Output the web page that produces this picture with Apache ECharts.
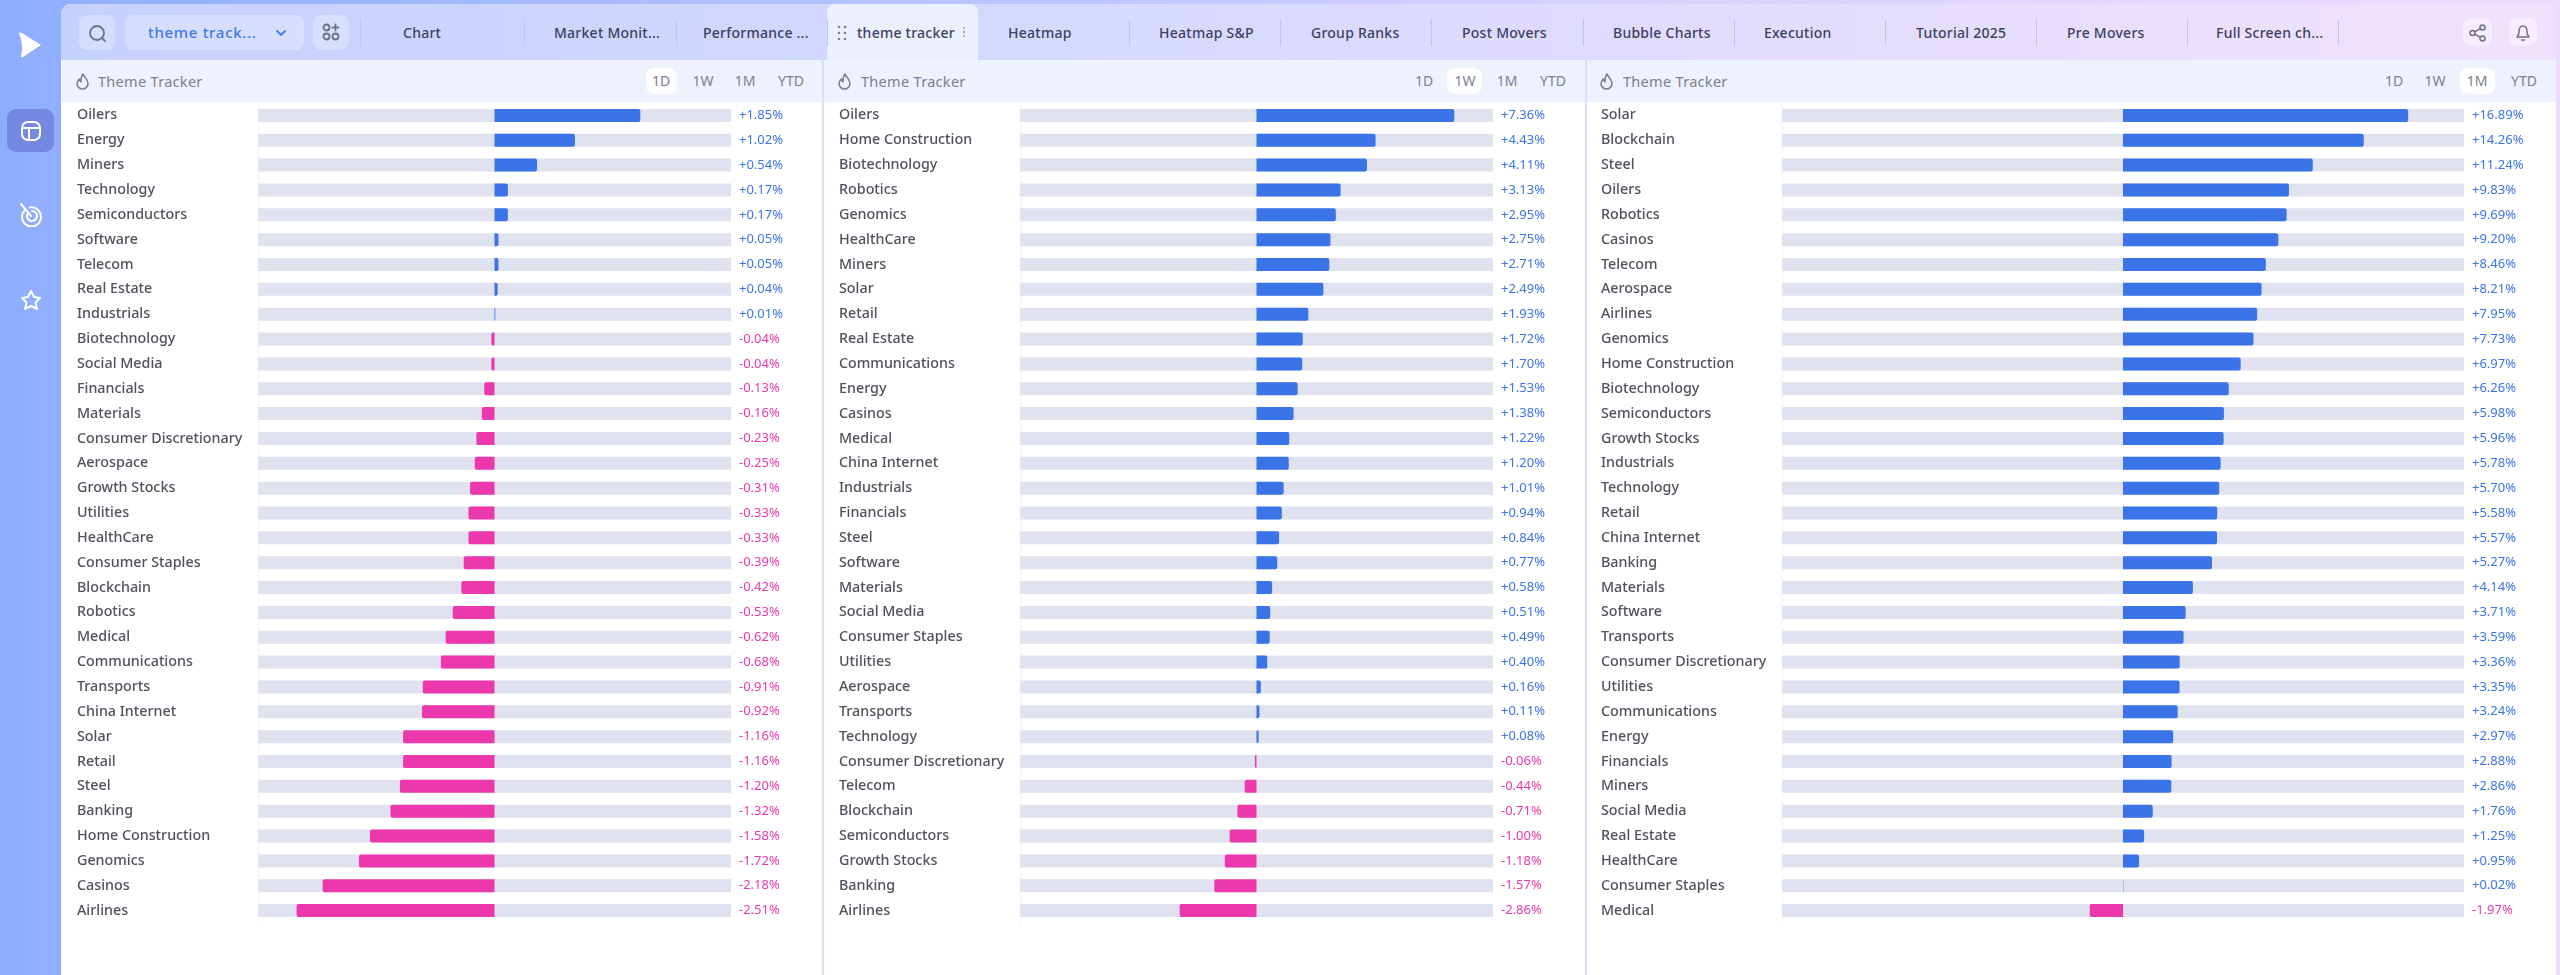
<!DOCTYPE html>
<html>
<head>
<meta charset="utf-8">
<title>Theme Tracker</title>
<script src="https://cdn.jsdelivr.net/npm/echarts@6/dist/echarts.min.js"></script>
<style>
html,body{margin:0;padding:0;width:2560px;height:975px;overflow:hidden;font-family:"Noto Sans",sans-serif}
body{position:relative;background:linear-gradient(90deg,#8fadff 0%,#b6c2ff 35%,#d9d3ff 65%,#ecdcfd 100%)}
.abs{position:absolute}
#shell{left:61px;top:4px;width:2495px;height:971px;border-radius:10px 10px 0 0;overflow:hidden;background:#fff}
#topbar{left:61px;top:4px;width:2495px;height:56px;border-radius:10px 10px 0 0;background:linear-gradient(90deg,#c5d1fd 0%,#d6d9fe 40%,#e3dcfe 70%,#f0e2fd 100%)}
.head{top:60px;height:42px;background:#eef1fe}
.sep{top:60px;width:2px;height:915px;background:#d8dff9}
.btn{top:15px;height:35px;border-radius:8px;background:rgba(255,255,255,.28)}
.tab{top:0;line-height:65px;height:65px;font-size:14px;font-weight:500;color:#3c4160;white-space:nowrap;letter-spacing:.25px}
.div{top:19px;width:1px;height:27px;background:#bfc6ee}
.ttl{top:70px;line-height:22px;font-size:14.5px;color:#7d808f;letter-spacing:.3px;white-space:nowrap}
.rng{top:70px;line-height:22px;font-size:14px;color:#7d808f;width:40px;margin-left:-20px;text-align:center}
.pill{top:68px;height:26px;background:#fff;border-radius:8px}
svg{position:absolute;fill:none}
#main{position:absolute;left:0;top:0;width:2560px;height:975px}
</style>
</head>
<body>
<div class="abs" id="shell"></div>
<div class="abs" id="topbar"></div>

<!-- 左侧栏图标 -->
<svg style="left:19px;top:32px" width="24" height="26" viewBox="0 0 24 26"><path d="M0 1 Q1 0 3 1 L22 13 L4 25 Q2 26 2 24 Q5 14 0 1Z" fill="#fff"/></svg>
<div class="abs" style="left:7px;top:109px;width:47px;height:43px;border-radius:9px;background:#7488e0"></div>
<svg style="left:20px;top:120px" width="22" height="22" viewBox="0 0 22 22" stroke="#fff" stroke-width="2"><rect x="2" y="2" width="18" height="18" rx="6"/><path d="M2 8H20M9 8V20"/></svg>
<svg style="left:19px;top:203px" width="24" height="24" viewBox="0 0 24 24" stroke="#fff" stroke-width="2" stroke-linecap="round"><path d="M6 7A9.5 9.5 0 1 0 11 4.5"/><path d="M9 10A5 5 0 1 0 13 8"/><path d="M2 1L12 13"/></svg>
<svg style="left:20px;top:289px" width="22" height="22" viewBox="0 0 22 22" stroke="#fff" stroke-width="2" stroke-linejoin="round"><path d="M11 2L14 8L20 9L15.5 13.5L17 20L11 17L5 20L6.5 13.5L2 9L8 8Z"/></svg>

<!-- 顶部按钮 -->
<div class="abs btn" style="left:79px;width:36px"></div>
<div class="abs btn" style="left:125px;width:179px"></div>
<div class="abs btn" style="left:313px;width:36px"></div>
<div class="abs" style="left:148px;top:0;line-height:65px;font-size:15px;font-weight:500;color:#3f78ee;letter-spacing:.7px">theme track...</div>
<svg style="left:88px;top:24px" width="19" height="19" viewBox="0 0 19 19" stroke="#6d7188" stroke-width="1.8" stroke-linecap="round"><circle cx="9" cy="9" r="7"/><path d="M14 14L17 17"/></svg>
<svg style="left:275px;top:29px" width="12" height="8" viewBox="0 0 12 8" stroke="#3f78ee" stroke-width="1.8" stroke-linecap="round"><path d="M2 2L6 6L10 2"/></svg>
<svg style="left:322px;top:23px" width="18" height="18" viewBox="0 0 18 18" stroke="#6d7188" stroke-width="1.8" stroke-linecap="round"><circle cx="4.5" cy="4.5" r="3"/><circle cx="4.5" cy="13.5" r="3"/><circle cx="13.5" cy="13.5" r="3"/><path d="M13.5 1.5V7.5M10.5 4.5H16.5"/></svg>
<div class="abs" style="left:827px;top:4px;width:151px;height:56px;border-radius:8px 8px 0 0;background:#eceffd"></div>
<svg style="left:837px;top:25px" width="10" height="16" viewBox="0 0 10 16"><circle cx="2" cy="2" r="1.3" fill="#7b7f95"/><circle cx="8" cy="2" r="1.3" fill="#7b7f95"/><circle cx="2" cy="8" r="1.3" fill="#7b7f95"/><circle cx="8" cy="8" r="1.3" fill="#7b7f95"/><circle cx="2" cy="14" r="1.3" fill="#7b7f95"/><circle cx="8" cy="14" r="1.3" fill="#7b7f95"/></svg>
<svg style="left:962px;top:26px" width="4" height="12" viewBox="0 0 4 12"><circle cx="2" cy="2" r="1" fill="#9a9eb2"/><circle cx="2" cy="6" r="1" fill="#9a9eb2"/><circle cx="2" cy="10" r="1" fill="#9a9eb2"/></svg>
<div class="abs" style="left:2463px;top:18px;width:29px;height:28px;border-radius:8px;background:rgba(255,255,255,.4)"></div>
<div class="abs" style="left:2509px;top:18px;width:28px;height:28px;border-radius:8px;background:rgba(255,255,255,.4)"></div>
<svg style="left:2469px;top:24px" width="18" height="18" viewBox="0 0 18 18" stroke="#6d7188" stroke-width="1.5"><circle cx="3.5" cy="9" r="2.5"/><circle cx="13.5" cy="3.5" r="2.5"/><circle cx="13.5" cy="14.5" r="2.5"/><path d="M5.7 7.8L11.3 4.7M5.7 10.2L11.3 13.3"/></svg>
<svg style="left:2515px;top:24px" width="16" height="18" viewBox="0 0 16 18" stroke="#6d7188" stroke-width="1.5" stroke-linejoin="round"><path d="M8 2C4.5 2 4 5 4 8C4 11 2 13 2 13H14C14 13 12 11 12 8C12 5 11.5 2 8 2Z"/><path d="M6 16H10"/></svg>

<div class="abs" id="chrome"></div>
<div id="main"></div>

<script>
// 顶部标签
var tabNames = ["Chart","Market Monit...","Performance ...","theme tracker","Heatmap","Heatmap S&P","Group Ranks","Post Movers","Bubble Charts","Execution","Tutorial 2025","Pre Movers","Full Screen ch..."];
var rangeNames = ["1D","1W","1M","YTD"];

// 左边 1D
var names1D = ["Oilers","Energy","Miners","Technology","Semiconductors","Software","Telecom","Real Estate","Industrials","Biotechnology","Social Media","Financials","Materials","Consumer Discretionary","Aerospace","Growth Stocks","Utilities","HealthCare","Consumer Staples","Blockchain","Robotics","Medical","Communications","Transports","China Internet","Solar","Retail","Steel","Banking","Home Construction","Genomics","Casinos","Airlines"];
var values1D = [1.85,1.02,0.54,0.17,0.17,0.05,0.05,0.04,0.01,-0.04,-0.04,-0.13,-0.16,-0.23,-0.25,-0.31,-0.33,-0.33,-0.39,-0.42,-0.53,-0.62,-0.68,-0.91,-0.92,-1.16,-1.16,-1.20,-1.32,-1.58,-1.72,-2.18,-2.51];

// 中间 1W
var names1W = ["Oilers","Home Construction","Biotechnology","Robotics","Genomics","HealthCare","Miners","Solar","Retail","Real Estate","Communications","Energy","Casinos","Medical","China Internet","Industrials","Financials","Steel","Software","Materials","Social Media","Consumer Staples","Utilities","Aerospace","Transports","Technology","Consumer Discretionary","Telecom","Blockchain","Semiconductors","Growth Stocks","Banking","Airlines"];
var values1W = [7.36,4.43,4.11,3.13,2.95,2.75,2.71,2.49,1.93,1.72,1.70,1.53,1.38,1.22,1.20,1.01,0.94,0.84,0.77,0.58,0.51,0.49,0.40,0.16,0.11,0.08,-0.06,-0.44,-0.71,-1.00,-1.18,-1.57,-2.86];

// 右边 1M
var names1M = ["Solar","Blockchain","Steel","Oilers","Robotics","Casinos","Telecom","Aerospace","Airlines","Genomics","Home Construction","Biotechnology","Semiconductors","Growth Stocks","Industrials","Technology","Retail","China Internet","Banking","Materials","Software","Transports","Consumer Discretionary","Utilities","Communications","Energy","Financials","Miners","Social Media","Real Estate","HealthCare","Consumer Staples","Medical"];
var values1M = [16.89,14.26,11.24,9.83,9.69,9.20,8.46,8.21,7.95,7.73,6.97,6.26,5.98,5.96,5.78,5.70,5.58,5.57,5.27,4.14,3.71,3.59,3.36,3.35,3.24,2.97,2.88,2.86,1.76,1.25,0.95,0.02,-1.97];

var BLUE = "#3b74e8", PINK = "#eb38ac", TRACK = "#e0e2f0";
var FONT = "Noto Sans";

// 页面框架：标签、分隔线、面板头
var tabX = [403,554,703,857,1008,1159,1311,1462,1613,1764,1916,2067,2216];
var divX = [360,524,676,827,1129,1280,1431,1583,1734,1885,2036,2187,2338];
var html = "";
tabNames.forEach(function (t, i) {
    html += '<div class="abs tab" style="left:' + tabX[i] + 'px">' + t.replace("&", "&amp;") + '</div>';
});
divX.forEach(function (x) {
    html += '<div class="abs div" style="left:' + x + 'px"></div>';
});

var panels = [
    {left: 62, width: 760, titleX: 98, flameX: 76, rangeX: [661,703,745,791], pill: [646,31]},
    {left: 824, width: 761, titleX: 861, flameX: 838, rangeX: [1424,1465,1507,1553], pill: [1447,35]},
    {left: 1587, width: 969, titleX: 1623, flameX: 1600, rangeX: [2394,2435,2477,2524], pill: [2460,35]}
];
panels.forEach(function (p) {
    html += '<div class="abs head" style="left:' + p.left + 'px;width:' + p.width + 'px"></div>';
    html += '<div class="abs pill" style="left:' + p.pill[0] + 'px;width:' + p.pill[1] + 'px"></div>';
    html += '<div class="abs ttl" style="left:' + p.titleX + 'px">Theme Tracker</div>';
    html += '<svg style="left:' + p.flameX + 'px;top:73px" width="13" height="17" viewBox="0 0 13 17" stroke="#7d808f" stroke-width="1.6" stroke-linejoin="round"><path d="M7 1C8 4 12 6 12 10.5A5.5 5.5 0 0 1 1 10.5C1 8.5 2 7 3.5 6C3.5 7.5 4 8.5 5 9C5 6 5.5 3 7 1Z"/></svg>';
    rangeNames.forEach(function (r, i) {
        html += '<div class="abs rng" style="left:' + p.rangeX[i] + 'px">' + r + '</div>';
    });
});
html += '<div class="abs sep" style="left:822px"></div><div class="abs sep" style="left:1585px"></div>';
document.getElementById("chrome").innerHTML = html;

// 柱状图：一个实例三个 grid
var myChart = echarts.init(document.getElementById("main"), null, {renderer: "canvas"});

var blocks = [
    {names: names1D, values: values1D, left: 258, right: 731, limit: 3},
    {names: names1W, values: values1W, left: 1020, right: 1493, limit: 8.8},
    {names: names1M, values: values1M, left: 1782, right: 2464, limit: 20.2}
];
var GRID_TOP = 103, GRID_BOTTOM = 923;

var grids = [], xAxes = [], yAxes = [], series = [];
blocks.forEach(function (b, i) {
    grids.push({left: b.left, width: b.right - b.left, top: GRID_TOP, height: GRID_BOTTOM - GRID_TOP, containLabel: false});
    xAxes.push({type: "value", gridIndex: i, min: -b.limit, max: b.limit, show: false});
    //左边的名称
    yAxes.push({
        type: "category", gridIndex: i, inverse: true, position: "left", data: b.names,
        axisTick: {show: false},
        axisLine: {show: true, onZero: false, lineStyle: {color: "#f2f3f9"}},
        axisLabel: {align: "left", margin: 181, interval: 0, fontFamily: FONT, fontSize: 14.3, fontWeight: 500, color: "#4f515c"}
    });
    //右边的百分比
    yAxes.push({
        type: "category", gridIndex: i, inverse: true, position: "right",
        data: b.values.map(function (v) {
            return {
                value: (v > 0 ? "+" : "") + v.toFixed(2) + "%",
                textStyle: {color: v >= 0 ? BLUE : PINK}
            };
        }),
        axisTick: {show: false},
        axisLine: {show: false},
        axisLabel: {align: "left", margin: 8, interval: 0, fontFamily: FONT, fontSize: 13}
    });
    series.push({
        type: "bar", xAxisIndex: i, yAxisIndex: i * 2, barWidth: 13, silent: true,
        showBackground: true,
        backgroundStyle: {color: TRACK},
        data: b.values.map(function (v) {
            return {
                value: v,
                itemStyle: {
                    color: v >= 0 ? BLUE : PINK,
                    borderRadius: v >= 0 ? [0, 2, 2, 0] : [2, 0, 0, 2]
                }
            };
        })
    });
});

var option = {
    animation: false,
    backgroundColor: "transparent",
    grid: grids,
    xAxis: xAxes,
    yAxis: yAxes,
    series: series
};
myChart.setOption(option);
</script>
</body>
</html>
